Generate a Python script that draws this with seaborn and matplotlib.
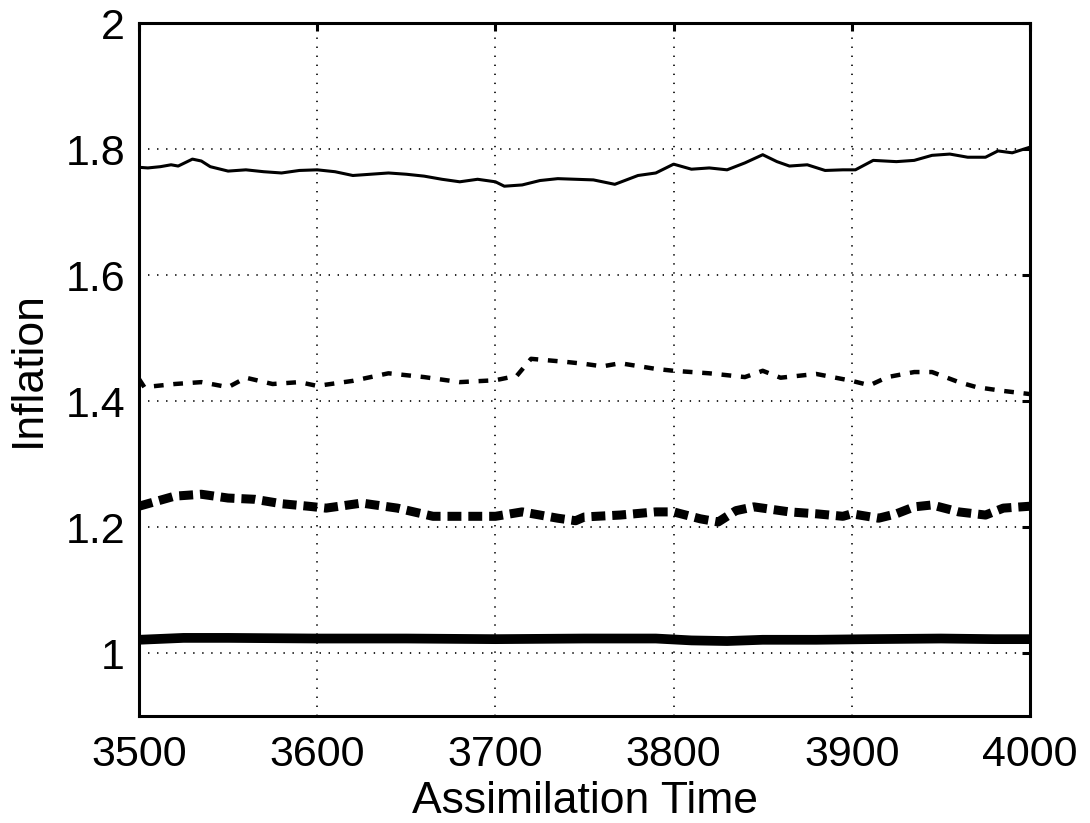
import matplotlib
matplotlib.use("Agg")
import matplotlib.pyplot as plt
import seaborn as sns
import pandas as pd

# Inflation factor series over the assimilation window
t_solid = [3500, 3505, 3512, 3518, 3522, 3530, 3535, 3540, 3550, 3560, 3570, 3580,
           3590, 3600, 3610, 3620, 3630, 3640, 3650, 3660, 3670, 3680, 3690, 3700,
           3705, 3715, 3725, 3735, 3745, 3755, 3767, 3780, 3790, 3800, 3810, 3820,
           3830, 3840, 3850, 3858, 3865, 3875, 3885, 3895, 3902, 3912, 3925, 3935,
           3945, 3955, 3965, 3975, 3982, 3990, 4000]
v_solid = [1.771, 1.770, 1.772, 1.775, 1.773, 1.784, 1.781, 1.772, 1.765, 1.767, 1.764, 1.762,
           1.766, 1.767, 1.764, 1.758, 1.760, 1.762, 1.760, 1.757, 1.752, 1.748, 1.752, 1.748,
           1.741, 1.743, 1.750, 1.753, 1.752, 1.751, 1.744, 1.758, 1.762, 1.776, 1.768, 1.770,
           1.767, 1.778, 1.791, 1.780, 1.773, 1.775, 1.766, 1.767, 1.767, 1.782, 1.780, 1.782,
           1.790, 1.792, 1.787, 1.787, 1.797, 1.794, 1.803]

t_dashed = [3500, 3503, 3520, 3535, 3550, 3560, 3575, 3590, 3600, 3620, 3640, 3660,
            3680, 3700, 3712, 3720, 3740, 3750, 3760, 3770, 3790, 3800, 3820, 3840,
            3850, 3860, 3880, 3900, 3910, 3920, 3935, 3945, 3960, 3970, 3985, 4000]
v_dashed = [1.435, 1.422, 1.427, 1.430, 1.422, 1.437, 1.427, 1.430, 1.424, 1.432, 1.444, 1.438,
            1.430, 1.433, 1.440, 1.467, 1.462, 1.459, 1.455, 1.460, 1.451, 1.448, 1.444, 1.438,
            1.448, 1.437, 1.443, 1.432, 1.425, 1.438, 1.446, 1.446, 1.430, 1.422, 1.416, 1.411]

t_dotted = [3500, 3510, 3520, 3535, 3550, 3565, 3580, 3595, 3605, 3625, 3645, 3665,
            3680, 3700, 3715, 3735, 3745, 3750, 3770, 3790, 3800, 3815, 3825, 3835,
            3845, 3865, 3880, 3895, 3900, 3915, 3925, 3935, 3945, 3960, 3975, 3985, 4000]
v_dotted = [1.233, 1.241, 1.249, 1.252, 1.246, 1.244, 1.237, 1.233, 1.230, 1.238, 1.230, 1.217,
            1.217, 1.217, 1.224, 1.214, 1.210, 1.216, 1.219, 1.224, 1.224, 1.213, 1.208, 1.226,
            1.232, 1.224, 1.221, 1.217, 1.221, 1.214, 1.221, 1.232, 1.235, 1.224, 1.219, 1.230, 1.233]

t_thick = [3500, 3525, 3550, 3600, 3650, 3700, 3750, 3790, 3810, 3830, 3850, 3880,
           3910, 3950, 3980, 4000]
v_thick = [1.021, 1.024, 1.024, 1.023, 1.023, 1.022, 1.023, 1.023, 1.020, 1.019, 1.021, 1.021,
           1.022, 1.023, 1.022, 1.022]

x_ticks = [3500, 3600, 3700, 3800, 3900, 4000]
y_ticks = [1.0, 1.2, 1.4, 1.6, 1.8, 2.0]
y_tick_labels = ["1", "1.2", "1.4", "1.6", "1.8", "2"]

sns.set_theme(style="white")
plt.rcParams["font.family"] = ["Liberation Sans", "DejaVu Sans"]
plt.rcParams["lines.scale_dashes"] = False

fig = plt.figure(figsize=(10.9, 8.23), dpi=100)
ax = fig.add_axes([0.1275, 0.130, 0.8175, 0.842])

series = [
    (t_solid, v_solid, 2.2, "-"),
    (t_dashed, v_dashed, 3.2, (0, (7.0, 7.0))),
    (t_dotted, v_dotted, 6.5, (0, (10.0, 5.0))),
    (t_thick, v_thick, 7.0, "-"),
]
for t, v, lw, ls in series:
    df = pd.DataFrame({"t": t, "v": v})
    sns.lineplot(data=df, x="t", y="v", ax=ax, color="black",
                 linewidth=lw, linestyle=ls, estimator=None, zorder=3)

ax.set_xlim(3500, 4000)
ax.set_ylim(0.9, 2.0)
ax.set_xticks(x_ticks)
ax.set_yticks(y_ticks)
ax.set_yticklabels(y_tick_labels)
ax.grid(True, color="black", linestyle=(0, (1.0, 5.5)), linewidth=1.2)

for s in ax.spines.values():
    s.set_visible(True)
    s.set_color("black")
    s.set_linewidth(2.2)

ax.tick_params(direction="in", length=6, width=2.2, top=True, right=True,
               labelsize=31, colors="black")
ax.tick_params(axis="x", pad=14)
ax.tick_params(axis="y", pad=10)
ax.set_xlabel("Assimilation Time", fontsize=32, labelpad=4, color="black")
ax.set_ylabel("Inflation", fontsize=32, labelpad=12, color="black")

fig.savefig("out.png", dpi=100, facecolor="white")
